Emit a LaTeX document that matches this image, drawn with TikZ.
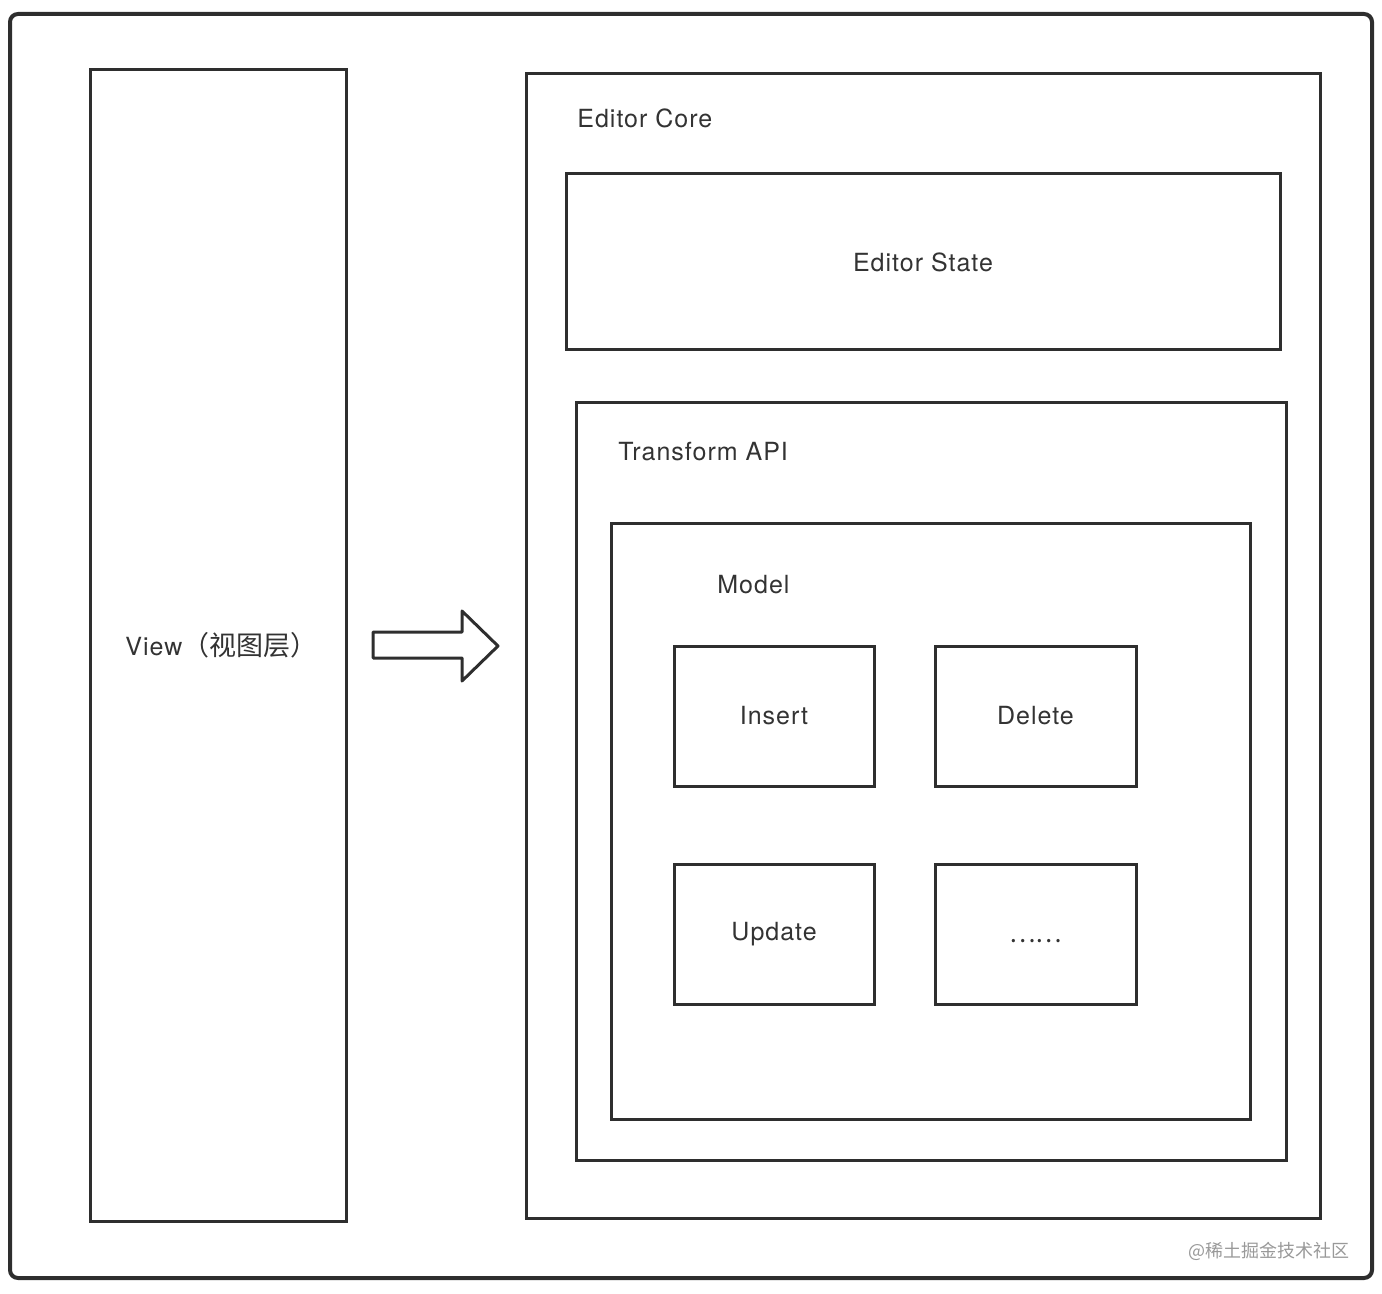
\documentclass[tikz,border=0pt]{standalone}
\usepackage{fontspec}
\setmainfont{TeX Gyre Heros}[LetterSpace=4]
\newfontfamily\cjk{Noto Sans CJK SC}
\usetikzlibrary{fit}
\definecolor{framecol}{HTML}{2E2E2E}
\definecolor{textcol}{HTML}{333333}
\tikzset{
  box/.style={draw=framecol, line width=1.5pt, inner sep=0pt},
  boxlabel/.style={text=textcol, font=\fontsize{12.5pt}{14pt}\selectfont, inner sep=0pt},
}

\begin{document}
\begin{tikzpicture}[x=0.5pt, y=-0.5pt]
\useasboundingbox (0,0) rectangle (1382,1294);
\draw[draw=framecol, line width=2pt, rounded corners=4pt] (10,14) rectangle (1372,1278);

\node[box, fit={(90,70) (346,1221)}] (view) {};
\node[box, fit={(526,74) (1320,1218)}] (core) {};
\node[box, fit={(566,174) (1280,350)}] (state) {};
\node[box, fit={(576,403) (1286,1160)}] (transform) {};
\node[box, fit={(611,524) (1250,1119)}] (model) {};
\node[box, fit={(674,646) (874,786)}] (insert) {};
\node[box, fit={(935,646) (1136,786)}] (delete) {};
\node[box, fit={(674,864) (874,1004)}] (update) {};
\node[box, fit={(935,864) (1136,1004)}] (more) {};

\node[boxlabel, anchor=west] at (125,645) {View{\cjk\fontsize{13.5pt}{15pt}\selectfont （视图层）}};
\node[boxlabel, anchor=west] at (577,118) {Editor Core};
\node[boxlabel] at (state.center) {Editor State};
\node[boxlabel, anchor=west] at (618,452) {Transform API};
\node[boxlabel, anchor=west] at (717,585) {Model};
\node[boxlabel] at (insert.center) {Insert};
\node[boxlabel] at (delete.center) {Delete};
\node[boxlabel] at (update.center) {Update};
\node[boxlabel, yshift=-3.5pt] at (more.center) {\cjk ……};

% block arrow
\draw[draw=framecol, line width=1.5pt, line join=round]
  (373,632) -- (462,632) -- (462,611) -- (498,646) -- (462,681)
  -- (462,658) -- (373,658) -- cycle;

\node[text=black!40, font=\cjk\fontsize{9pt}{11pt}\selectfont, anchor=east, inner sep=0pt] (mark) at (1350,1251) {@稀土掘金技术社区};
\end{tikzpicture}
\end{document}
